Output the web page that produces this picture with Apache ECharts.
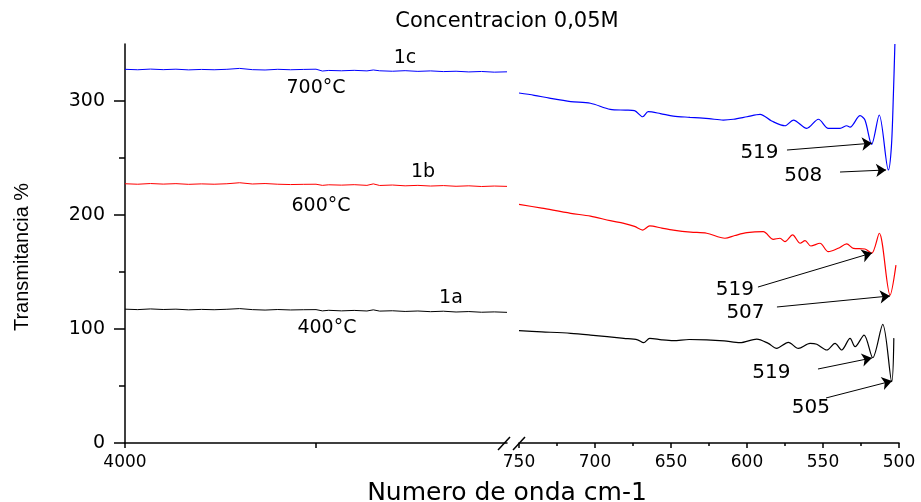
<!DOCTYPE html>
<html><head><meta charset="utf-8">
<script src="https://cdn.jsdelivr.net/npm/echarts@6/dist/echarts.min.js"></script>
<style>html,body{margin:0;padding:0;background:#fff}#c{width:921px;height:502px}</style>
</head><body><div id="c"></div>
<script>
// ---- data ----
const LEFT_WN = [4000,3900,3800,3700,3600,3500,3400,3300,3200,3100,3000,2900,2800,2700,2600,2500,2450,2400,2300,2200,2100,2050,2000,1900,1800,1700,1600,1500,1400,1300,1200,1100,1000];
const blueLeft  = [327.8,327.4,328.0,327.5,327.9,327.3,327.7,327.4,327.8,328.6,327.5,327.2,327.8,327.4,327.7,327.9,326.3,326.8,326.5,326.9,326.4,327.2,326.5,326.1,326.6,326.0,326.4,325.8,326.1,325.5,325.9,325.3,325.6];
const redLeft   = [227.4,227.0,227.6,227.1,227.5,226.9,227.3,227.0,227.4,228.3,227.2,227.6,227.0,226.7,226.9,227.0,226.0,226.5,226.2,226.6,226.0,227.3,225.9,226.3,225.6,226.0,225.4,225.8,225.2,225.6,225.0,225.4,225.1];
const blackLeft = [117.4,117.0,117.6,117.1,117.4,116.8,117.2,116.9,117.3,117.9,117.0,116.6,117.1,116.7,116.9,117.0,115.9,116.4,115.9,116.3,115.8,116.8,115.7,116.0,115.4,115.8,115.2,115.6,114.9,115.3,114.7,115.0,114.6];

const blueWn  = [750,740,730,716,703,690,680,674,668.6,665,657,648.5,637.5,625,615.6,609,600,591.4,583.8,575,569.5,560.7,553,546.5,538.8,534.4,532.2,525.6,522.4,518,513,507,505,503.7,502.7];
const blueVal = [307,305,302.5,299.5,298,292.7,292,291.5,286.2,290.6,289,286.8,285.7,284.5,283.3,284,286.2,288.3,282.5,278.3,283.3,276,284,276,276,278.3,277,287.1,283.3,262,287.7,239.5,260,305,350];
const redWn   = [750,735,716,703,690,681,674,668.6,664,656,648.5,637,626.5,614.5,608,600,589.3,582.7,578.3,575,570,565,561.8,558,552,546.5,540,534.4,530,522.4,518,513,505.9,502];
const redVal  = [209.4,206,201.5,199,195,192.7,190,186.8,190.4,188.5,186.8,185,184,179.6,182,184.5,185.4,178.7,179.6,176.6,182.5,175.2,177.5,172.8,175.2,167.8,170.8,174.6,170.8,170.2,166.4,184,129.8,156.1];
const blackWn = [750,735,716,703,681,672,668,664,656,648.5,638,626.5,615,604.6,593.6,586,580.5,572.8,566.2,558.5,554.1,547.5,542.1,537.7,532.2,528.9,523,517.3,510.7,504.8,503.4];
const blackVal= [98.5,97.5,96.2,94.7,91.8,90.5,88,91.8,90.5,89.8,90.8,90.5,89.5,88,91.2,87.4,83,88.3,83,87.4,86.6,81.6,87.4,81.6,91.8,84.5,94.7,74.8,104.1,53.8,92];

const X_TICKS_RIGHT = [750,700,650,600,550,500];
const Y_TICKS = [0,100,200,300];

// annotations: [labelWn, labelVal, text, arrowStartWn, arrowStartVal, arrowEndWn, arrowEndVal]
const blueNotes  = [[591.8,255,'519',573.7,257,517.8,263],[563,234,'508',538.8,237.7,508.5,239.5]];
const redNotes   = [[608,134,'519',592.8,136.8,517.8,166.7],[601,114,'507',580.3,119.3,505.9,129]];
const blackNotes = [[584,62,'519',553.3,64.9,517.8,74.6],[558,31,'505',548,39.5,504.6,54.4]];
// left labels: [wn, val, text]
const leftLabels = {
  blue: [[1801,338,'1c'],[2500,311,'700°C']],
  red: [[1660,238,'1b'],[2461,208,'600°C']],
  black: [[1440,127,'1a'],[2414,101,'400°C']]
};

const FONT = 'DejaVu Sans';
const zip = (a,b)=>a.map((v,i)=>[v,b[i]]);

function marks(notes){
  return {
    markLine: {silent:true, symbol:['none','arrow'], symbolSize:10,
      lineStyle:{color:'#000',width:1,type:'solid'}, label:{show:false},
      data: notes.map(n=>[{coord:[n[3],n[4]]},{coord:[n[5],n[6]]}])},
    markPoint: {silent:true, symbol:'rect', symbolSize:1, itemStyle:{color:'rgba(0,0,0,0)'},
      label:{show:true, position:'inside', color:'#000', fontFamily:FONT, fontSize:20, formatter:p=>p.name},
      data: notes.map(n=>({name:n[2], coord:[n[0],n[1]]}))}
  };
}
function lblMarks(arr){
  return {markPoint:{silent:true, symbol:'rect', symbolSize:1, itemStyle:{color:'rgba(0,0,0,0)'},
    label:{show:true, position:'inside', color:'#000', fontFamily:FONT, fontSize:19, formatter:p=>p.name},
    data: arr.map(n=>({name:n[2], coord:[n[0],n[1]]}))}};
}

const chart = echarts.init(document.getElementById('c'), null, {renderer:'canvas'});
const lineBase = {type:'line', showSymbol:false, animation:false};
chart.setOption({
  backgroundColor:'#fff',
  animation:false,
  title:[
    {text:'Concentracion 0,05M', left:502, top:6, textAlign:'center',
     textStyle:{fontFamily:FONT, fontSize:21, fontWeight:'normal', color:'#000'}},
    {text:'Numero de onda cm-1', left:502, top:476, textAlign:'center',
     textStyle:{fontFamily:FONT, fontSize:25, fontWeight:'normal', color:'#000'}}
  ],
  grid:[
    {left:125, top:44, width:382, height:399},
    {left:519, top:44, width:380, height:399}
  ],
  xAxis:[
    {gridIndex:0, type:'value', min:1000, max:4000, inverse:true, interval:1500,
     axisLine:{show:true, onZero:false, lineStyle:{color:'#000', width:1.5}},
     axisTick:{show:true, length:5, customValues:[4000,2500], lineStyle:{color:'#000', width:1.5}},
     axisLabel:{customValues:[4000], formatter:v=>String(v), color:'#000', fontFamily:FONT, fontSize:17, margin:11},
     splitLine:{show:false}},
    {gridIndex:1, type:'value', min:500, max:750, inverse:true, interval:50,
     axisLine:{show:true, onZero:false, lineStyle:{color:'#000', width:1.5}},
     axisTick:{show:true, length:5, lineStyle:{color:'#000', width:1.5}},
     minorTick:{show:true, splitNumber:2, length:3, lineStyle:{color:'#000', width:1.5}},
     axisLabel:{color:'#000', fontFamily:FONT, fontSize:17, margin:11, customValues:X_TICKS_RIGHT, formatter:v=>String(v)},
     splitLine:{show:false}}
  ],
  yAxis:[
    {gridIndex:0, type:'value', min:0, max:350, interval:100,
     axisLine:{show:true, lineStyle:{color:'#000', width:1.5}},
     axisTick:{show:true, length:11, customValues:Y_TICKS, lineStyle:{color:'#000', width:1.5}},
     minorTick:{show:true, splitNumber:2, length:6, lineStyle:{color:'#000', width:1.5}},
     axisLabel:{color:'#000', fontFamily:FONT, fontSize:19, margin:20, customValues:Y_TICKS},
     splitLine:{show:false}},
    {gridIndex:1, type:'value', min:0, max:350, interval:100, show:false}
  ],
  graphic:[
    {type:'text', x:22, y:257, rotation:Math.PI/2,
     style:{text:'Transmitancia %', fontFamily:'Liberation Sans', fontSize:20, fill:'#000', textAlign:'center', textVerticalAlign:'middle'}},
    {type:'line', shape:{x1:498,y1:450,x2:510,y2:437}, style:{stroke:'#000', lineWidth:1.5}},
    {type:'line', shape:{x1:513,y1:450,x2:525,y2:437}, style:{stroke:'#000', lineWidth:1.5}}
  ],
  series:[
    Object.assign({}, lineBase, {name:'b-left', xAxisIndex:0, yAxisIndex:0, data:zip(LEFT_WN, blueLeft), lineStyle:{color:'#0000ff', width:1}}, lblMarks(leftLabels.blue)),
    Object.assign({}, lineBase, {name:'r-left', xAxisIndex:0, yAxisIndex:0, data:zip(LEFT_WN, redLeft), lineStyle:{color:'#ff0000', width:1}}, lblMarks(leftLabels.red)),
    Object.assign({}, lineBase, {name:'k-left', xAxisIndex:0, yAxisIndex:0, data:zip(LEFT_WN, blackLeft), lineStyle:{color:'#000000', width:1}}, lblMarks(leftLabels.black)),
    Object.assign({}, lineBase, {name:'b-right', xAxisIndex:1, yAxisIndex:1, smooth:0.3, data:zip(blueWn, blueVal), lineStyle:{color:'#0000ff', width:1.2}}, marks(blueNotes)),
    Object.assign({}, lineBase, {name:'r-right', xAxisIndex:1, yAxisIndex:1, smooth:0.3, data:zip(redWn, redVal), lineStyle:{color:'#ff0000', width:1.2}}, marks(redNotes)),
    Object.assign({}, lineBase, {name:'k-right', xAxisIndex:1, yAxisIndex:1, smooth:0.3, data:zip(blackWn, blackVal), lineStyle:{color:'#000000', width:1.2}}, marks(blackNotes))
  ]
});
</script></body></html>
